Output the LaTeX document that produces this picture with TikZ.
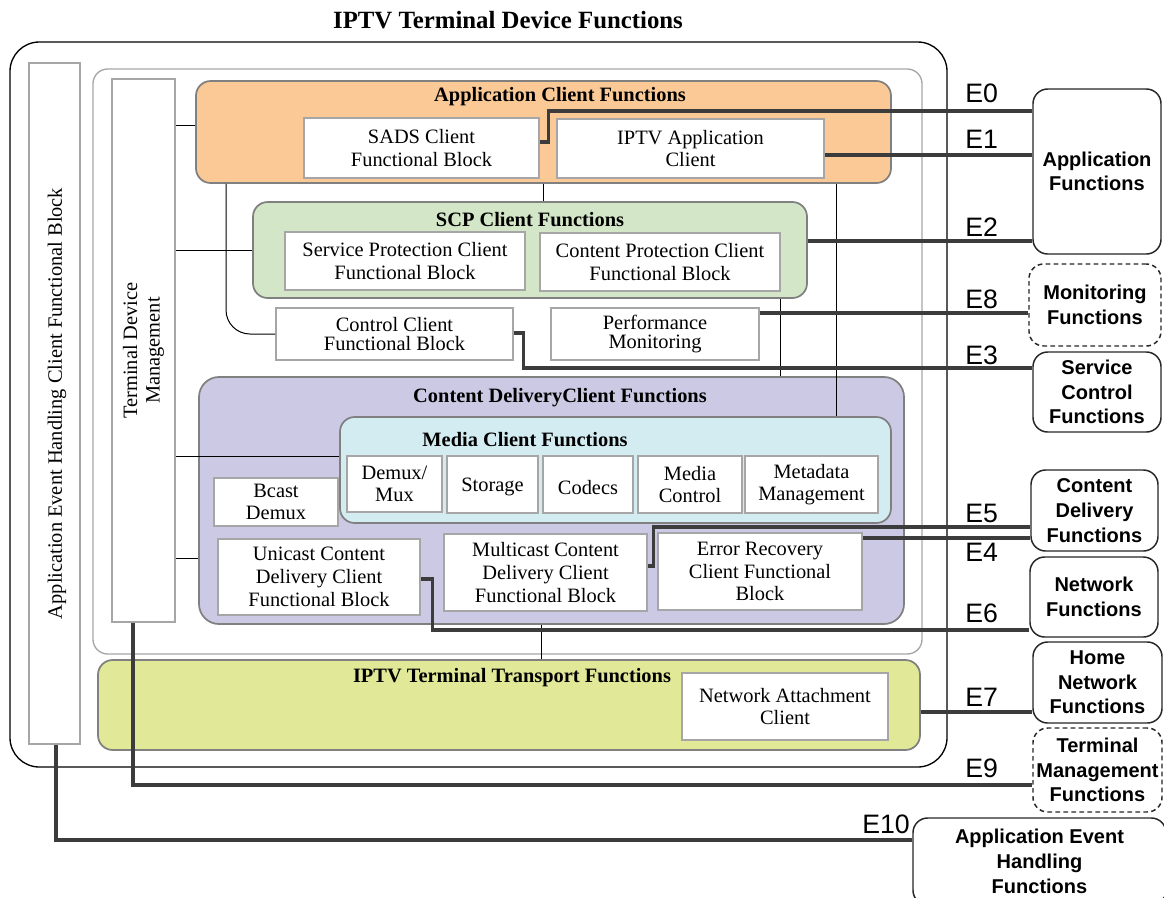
\documentclass[tikz,border=0pt]{standalone}
\usepackage{fontspec}
\setmainfont{Liberation Serif}
\newfontfamily\arialf{Liberation Sans}
\usetikzlibrary{calc}

\definecolor{orangefill}{HTML}{FBC995}
\definecolor{greenfill}{HTML}{D3E6C7}
\definecolor{purplefill}{HTML}{CCC9E4}
\definecolor{cyanfill}{HTML}{D2ECF1}
\definecolor{yellowfill}{HTML}{E1E898}
\definecolor{regionborder}{HTML}{808080}
\definecolor{boxborder}{HTML}{A6A6A6}
\definecolor{connc}{HTML}{3C3C3C}

\newcommand\mytxt{\fontsize{15.3pt}{17pt}\selectfont}
\newcommand\mytxtc{\fontsize{15.3pt}{14.3pt}\selectfont}
\newcommand\myttl{\fontsize{15.3pt}{17pt}\selectfont\bfseries}
\newcommand\mytop{\fontsize{18.6pt}{21pt}\selectfont\bfseries}
\newcommand\myext{\arialf\bfseries\fontsize{15pt}{18.5pt}\selectfont}
\newcommand\myel{\arialf\fontsize{20pt}{24pt}\selectfont}

\newcommand\bx[7]{\node[#1, minimum width={(#5-#3)*0.75pt}, minimum height={(#6-#4)*0.75pt}] (#2) at ({(#3+#5)/2},{(#4+#6)/2}) {#7};}

\tikzset{
  region/.style={draw=regionborder, line width=1.3pt, rounded corners=11pt, inner sep=0pt},
  wbox/.style={draw=boxborder, fill=white, line width=1.2pt, inner sep=0pt, align=center, font=\mytxt,
    execute at begin node={\rule{0pt}{14.5pt}}},
  ext/.style={draw=black!85, line width=1.1pt, rounded corners=11pt, fill=white, inner sep=0pt, align=center, font=\myext},
  extdash/.style={ext, dash pattern=on 3.5pt off 2.5pt},
  conn/.style={draw=connc, line width=2.3pt},
  thinline/.style={draw=black, line width=0.75pt},
  ttl/.style={font=\myttl, inner sep=0pt},
  elabel/.style={font=\myel, anchor=west, inner sep=0pt}
}

\begin{document}
\begin{tikzpicture}[x=0.75pt, y=-0.75pt]
\useasboundingbox (0,0) rectangle (1164,897);

% helper coordinates
\coordinate (y125) at (0,125);
\coordinate (y250) at (0,250);
\coordinate (y456) at (0,456);
\coordinate (y558) at (0,558);
\coordinate (x226) at (226,0);
\coordinate (x543) at (543,0);
\coordinate (x780) at (780,0);
\coordinate (x836) at (836,0);
\coordinate (x541) at (541,0);
\coordinate (x133) at (133,0);
\coordinate (x56) at (56,0);
\coordinate (yE0a) at (0,142);
\coordinate (yE0) at (0,111);
\coordinate (yE1) at (0,155);
\coordinate (yE2) at (0,241);
\coordinate (yE8) at (0,313);
\coordinate (yE3a) at (0,333);
\coordinate (yE3) at (0,368);
\coordinate (yE5a) at (0,566);
\coordinate (yE5) at (0,527);
\coordinate (yE4) at (0,538);
\coordinate (yE6a) at (0,579);
\coordinate (yE6) at (0,630);
\coordinate (yE7) at (0,712);
\coordinate (yE9) at (0,785);
\coordinate (yE10) at (0,840);

\node[font=\mytop, inner sep=0pt] (title) at (508,20) {IPTV Terminal Device Functions};

% frames
\bx{draw=black, line width=1pt, rounded corners=22pt, inner sep=0pt}{outer}{10}{42}{947}{767}{}
\bx{draw=boxborder, line width=1pt, rounded corners=11pt, inner sep=0pt}{inner}{93}{69}{922}{654}{}
\node[wbox, rotate=90, minimum width={681*0.75pt}, minimum height={51*0.75pt}] (aeh) at (54.5,403.5) {Application Event Handling Client Functional Block};
\node[wbox, rotate=90, minimum width={543*0.75pt}, minimum height={63*0.75pt}] (tdm) at (143.5,350.5) {Terminal Device\\Management};

% application client
\bx{region, fill=orangefill}{acf}{196}{81}{891}{183}{}
\node[ttl] (acft) at (560,97) {Application Client Functions};
\bx{wbox}{sads}{304}{118}{539}{178}{SADS Client\\Functional Block}
\bx{wbox}{iac}{557}{119}{824}{178}{IPTV Application\\Client}

% SCP
\bx{region, fill=greenfill}{scp}{253}{202}{807}{298}{}
\node[ttl] (scpt) at (530,220) {SCP Client Functions};
\bx{wbox}{spc}{285}{232}{525}{290}{Service Protection Client\\Functional Block}
\bx{wbox}{cpc}{540}{233}{780}{291}{Content Protection Client\\Functional Block}

\bx{wbox, font=\mytxtc}{ccf}{276}{308}{513}{360}{Control Client\\Functional Block}
\bx{wbox, font=\mytxtc}{pm}{551}{308}{759}{360}{Performance\\Monitoring}

% content delivery
\bx{region, fill=purplefill, rounded corners=15pt}{cdc}{199}{377}{904}{624}{}
\node[ttl] (cdct) at (560,398) {Content DeliveryClient Functions};
\bx{region, fill=cyanfill}{mcf}{340}{417}{891}{523}{}
\node[ttl] (mcft) at (525,440) {Media Client Functions};
\bx{wbox}{dmx}{347}{456}{442}{512}{Demux/\\Mux}
\bx{wbox}{sto}{447}{456}{538}{513}{Storage}
\bx{wbox}{cod}{543}{456}{633}{513}{Codecs}
\bx{wbox}{mc}{638}{456}{742}{513}{Media\\Control}
\bx{wbox}{mdm}{745}{456}{878}{513}{Metadata\\Management}
\bx{wbox}{bcd}{214}{478}{338}{526}{Bcast\\Demux}
\bx{wbox}{ucd}{218}{539}{420}{615}{Unicast Content\\Delivery Client\\Functional Block}
\bx{wbox}{mcd}{444}{534}{647}{611}{Multicast Content\\Delivery Client\\Functional Block}
\bx{wbox}{erc}{658}{533}{862}{610}{Error Recovery\\Client Functional\\Block}

% transport
\bx{region, fill=yellowfill}{ttf}{98}{660}{920}{750}{}
\node[ttl] (ttft) at (512,678) {IPTV Terminal Transport Functions};
\bx{wbox}{nac}{682}{673}{888}{740}{Network Attachment\\Client}

% external functions
\bx{ext}{appf}{1033}{89}{1161}{254}{Application\\Functions}
\bx{extdash}{monf}{1029}{264}{1161}{346}{Monitoring\\Functions}
\bx{ext}{scf}{1033}{352}{1161}{432}{Service\\Control\\Functions}
\bx{ext}{cdf}{1031}{470}{1158}{551}{Content\\Delivery\\Functions}
\bx{ext}{nf}{1030}{557}{1158}{637}{Network\\Functions}
\bx{ext}{hnf}{1033}{642}{1162}{723}{Home\\Network\\Functions}
\bx{extdash}{tmf}{1033}{728}{1162}{812}{Terminal\\Management\\Functions}
\bx{ext}{aehf}{913}{818}{1166}{905}{Application Event\\Handling\\Functions}

% thin internal links
\draw[thinline] (tdm.south |- y125) -- (acf.west |- y125);
\draw[thinline] (tdm.south |- y250) -- (scp.west |- y250);
\draw[thinline, rounded corners=18pt] (acf.south -| x226) |- (ccf.west);
\draw[thinline] (acf.south -| x543) -- (scp.north -| x543);
\draw[thinline] (scp.south -| x780) -- (cdc.north -| x780);
\draw[thinline] (acf.south -| x836) -- (mcf.north -| x836);
\draw[thinline] (tdm.south |- y456) -- (mcf.west |- y456);
\draw[thinline] (tdm.south |- y558) -- (cdc.west |- y558);
\draw[thinline] (cdc.south -| x541) -- (ttf.north -| x541);

% reference points
\draw[conn] (sads.east |- yE0a) -- ++(9,0) |- (appf.west |- yE0);
\draw[conn] (iac.east |- yE1) -- (appf.west |- yE1);
\draw[conn] (scp.east |- yE2) -- (appf.west |- yE2);
\draw[conn] (pm.east |- yE8) -- (monf.west |- yE8);
\draw[conn] (ccf.east |- yE3a) -- ++(10,0) |- (scf.west |- yE3);
\draw[conn] (mcd.east |- yE5a) -- ++(6,0) |- (cdf.west |- yE5);
\draw[conn] (erc.east |- yE4) -- (cdf.west |- yE4);
\draw[conn] (ucd.east |- yE6a) -- ++(12,0) |- (nf.west |- yE6);
\draw[conn] (ttf.east |- yE7) -- (hnf.west |- yE7);
\draw[conn] (tdm.west -| x133) |- (tmf.west |- yE9);
\draw[conn] (aeh.west -| x56) |- (aehf.west |- yE10);

\node[elabel] (e0) at (965,93.5) {E0};
\node[elabel] (e1) at (965,139.5) {E1};
\node[elabel] (e2) at (965,227) {E2};
\node[elabel] (e8) at (965,299) {E8};
\node[elabel] (e3) at (965,355) {E3};
\node[elabel] (e5) at (965,513) {E5};
\node[elabel] (e4) at (965,552) {E4};
\node[elabel] (e6) at (965,613) {E6};
\node[elabel] (e7) at (965,697) {E7};
\node[elabel] (e9) at (965,768) {E9};
\node[elabel] (e10) at (862,824) {E10};
\end{tikzpicture}
\end{document}
